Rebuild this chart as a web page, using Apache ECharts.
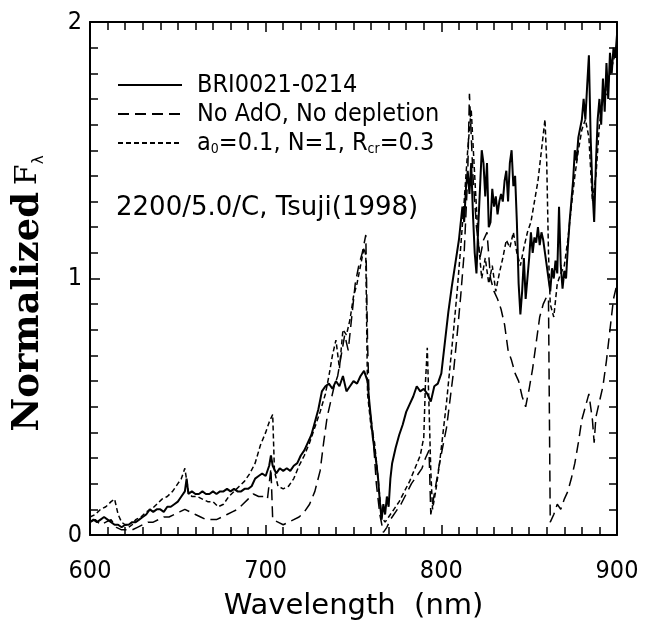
<!DOCTYPE html>
<html>
<head>
<meta charset="utf-8">
<script src="https://cdn.jsdelivr.net/npm/echarts@6/dist/echarts.min.js"></script>
<style>
html,body{margin:0;padding:0;background:#fff;}
#chart{width:646px;height:628px;}
</style>
</head>
<body>
<div id="chart"></div>
<script>
// observed spectrum (solid)
var obsWave=[600,602,604,606,608,610,612,614,616,618,620,622,624,626,628,630,632,634,636,638,640,642,644,646,648,650,652,654,655,656,658,660,662,664,666,668,670,672,674,676,678,680,682,684,686,688,690,692,694,696,698,700,702,703,704,706,708,710,712,714,716,718,720,722,724,726,728,730,732,734,736,738,740,742,744,746,748,750,752,754,756,758,759,760,761,762,763,764,765,766,767,768,769,770,771,772,774,776,778,780,782,784,786,788,790,792,794,796,798,800,802,804,806,808,810,812,813,814,815,816,817,818,819,820,821,822,823,824,825,826,827,828,829,830,831,832,833,834,835,836,837,838,839,840,841,842,843,844,845,846,847,848,849,850,851,852,853,854,855,856,857,858,859,860,861,862,863,864,865,866,867,868,869,870,871,872,873,874,875,876,877,878,879,880,881,882,883,884,885,886,887,888,889,890,891,892,893,894,895,896,897,898,899,900];
var obsFlux=[.05,.06,.05,.06,.07,.06,.05,.04,.04,.03,.04,.04,.05,.05,.06,.07,.08,.10,.09,.10,.10,.09,.11,.11,.12,.13,.15,.17,.22,.16,.17,.16,.16,.17,.16,.16,.17,.16,.17,.17,.18,.17,.18,.17,.17,.18,.18,.19,.22,.23,.24,.23,.27,.31,.27,.24,.26,.25,.26,.25,.27,.28,.31,.33,.36,.39,.44,.49,.56,.58,.59,.57,.60,.58,.62,.56,.58,.60,.59,.62,.64,.60,.52,.45,.38,.33,.28,.22,.13,.06,.12,.08,.15,.11,.22,.28,.34,.39,.43,.48,.51,.54,.58,.56,.57,.55,.52,.58,.59,.63,.75,.87,.97,1.06,1.15,1.28,1.22,1.35,1.42,1.33,1.45,1.25,1.10,1.02,1.20,1.35,1.50,1.45,1.32,1.45,1.20,1.22,1.35,1.28,1.32,1.25,1.30,1.33,1.30,1.38,1.42,1.30,1.45,1.50,1.36,1.40,1.22,.98,.86,.95,1.08,.92,1.00,1.08,1.18,1.10,1.16,1.14,1.20,1.13,1.18,1.15,1.10,1.05,1.00,.95,1.04,1.00,1.07,1.02,1.28,1.05,.96,1.03,1.00,1.12,1.22,1.30,1.38,1.50,1.46,1.55,1.55,1.62,1.70,1.62,1.75,1.87,1.55,1.35,1.22,1.45,1.62,1.70,1.60,1.78,1.65,1.84,1.70,1.88,1.80,1.90,1.86,1.95];

// model: No AdO, No depletion (long dash)
var noDustWave=[600,603,606,609,612,615,618,621,624,627,630,633,636,639,642,645,648,651,654,657,660,663,666,669,672,675,678,681,684,687,690,693,696,699,701,702,703,704,707,710,713,716,719,722,725,728,731,733,735,737,739,741,743,745,747,749,751,753,755,757,758,759,761,763,765,767,769,771,774,777,780,783,786,789,791,793,794,795,797,799,801,803,805,807,809,811,813,815,816,818,820,822,824,826,828,830,832,834,836,838,840,842,844,846,848,850,852,854,856,858,860,861,862,864,866,868,870,872,874,876,878,880,882,884,886,887,888,890,892,894,896,898,900];
var noDustFlux=[.05,.06,.04,.05,.06,.03,.02,.02,.02,.03,.04,.05,.05,.06,.07,.07,.08,.09,.10,.09,.08,.07,.06,.06,.06,.07,.08,.09,.10,.12,.14,.16,.15,.15,.14,.20,.26,.06,.05,.04,.05,.06,.07,.09,.12,.17,.25,.36,.46,.52,.58,.62,.70,.78,.72,.85,.98,1.05,1.10,1.17,.75,.50,.40,.20,.08,.01,.03,.06,.09,.12,.16,.20,.23,.26,.30,.33,.08,.12,.20,.28,.35,.42,.53,.64,.78,.93,1.10,1.40,1.72,1.40,1.20,1.08,1.15,1.18,1.00,.95,.92,.88,.82,.72,.68,.63,.60,.54,.50,.57,.65,.75,.85,.90,.93,.92,.05,.08,.12,.10,.14,.17,.22,.28,.36,.45,.50,.55,.45,.36,.46,.52,.58,.68,.80,.92,.98];

// model: a0=0.1, N=1, Rcr=0.3 (short dash)
var dustWave=[600,603,606,609,612,614,616,618,620,622,624,626,629,632,635,638,641,644,647,650,652,654,656,658,661,664,667,670,673,676,679,682,685,688,691,694,697,700,702,704,705,707,710,713,716,719,722,725,728,731,734,736,738,740,742,744,746,748,750,752,754,756,757,758,760,762,764,766,768,770,773,776,779,782,785,788,790,791,792,793,794,795,797,799,801,803,805,807,809,811,813,815,817,819,821,823,825,827,829,831,833,835,837,839,841,843,845,847,849,851,853,855,857,859,860,861,862,864,866,868,870,872,874,876,878,880,882,884,886,888,890,892,894,896,898,900];
var dustFlux=[.07,.08,.10,.11,.13,.14,.08,.05,.04,.03,.04,.06,.07,.09,.10,.12,.14,.15,.17,.20,.22,.26,.17,.15,.15,.14,.13,.13,.11,.12,.15,.17,.19,.21,.24,.28,.35,.40,.44,.47,.25,.19,.18,.19,.22,.27,.31,.36,.42,.48,.55,.62,.70,.76,.65,.80,.78,.84,.93,.98,1.05,1.12,1.09,.55,.42,.36,.22,.07,.05,.07,.10,.13,.17,.21,.26,.31,.38,.60,.73,.50,.25,.10,.18,.28,.40,.52,.66,.80,.95,1.12,1.30,1.50,1.66,1.40,1.15,1.00,1.08,.98,1.05,.95,1.02,1.08,1.15,1.12,1.18,1.10,1.05,1.12,1.18,1.22,1.30,1.38,1.50,1.62,1.45,1.10,.90,.85,.98,1.02,1.05,1.15,1.28,1.40,1.50,1.58,1.62,1.55,1.30,1.40,1.60,1.70,1.72,1.80,1.85,1.90];

var seriesNames=['BRI0021-0214','No AdO, No depletion','a0=0.1, N=1, Rcr=0.3'];
var xTicks=[600,700,800,900];
var yTicks=[0,1,2];

function zip(xs,ys){
    var out=[];
    for(var i=0;i<xs.length;i++){
        out.push([xs[i],ys[i]]);
    }
    return out;
}

var txtFont='"DejaVu Sans",sans-serif';
var lblFont='"DejaVu Sans Condensed","DejaVu Sans",sans-serif';

// build one frame axis, every call gets fresh objects (shared ones break the ticks)
function frameAxis(isX,pos){
    return {
        type:'value',position:pos,
        min:isX?xTicks[0]:yTicks[0],
        max:isX?xTicks[xTicks.length-1]:yTicks[yTicks.length-1],
        interval:isX?100:1,
        axisLine:{show:true,onZero:false,lineStyle:{color:'#000',width:2}},
        axisTick:{show:true,inside:true,length:10,lineStyle:{color:'#000',width:1.5}},
        minorTick:{show:true,splitNumber:10,length:8,lineStyle:{color:'#000',width:1.5}},
        splitLine:{show:false},
        minorSplitLine:{show:false},
        axisLabel:{show:false}
    };
}

var xBottom=frameAxis(true,'bottom');
xBottom.name='Wavelength  (nm)';
xBottom.nameLocation='middle';
xBottom.nameGap=57;
xBottom.nameTextStyle={fontFamily:txtFont,fontSize:29,color:'#000'};
xBottom.axisLabel={show:true,margin:24,fontFamily:lblFont,fontSize:25,color:'#000'};
var xTop=frameAxis(true,'top');

var yLeft=frameAxis(false,'left');
yLeft.name='{b|Normalized}  {f|F}{l|λ}';
yLeft.nameLocation='middle';
yLeft.nameGap=43;
yLeft.nameRotate=90;
yLeft.nameTextStyle={
    padding:[0,30,0,0],
    rich:{
        b:{fontFamily:'"DejaVu Serif",serif',fontWeight:'bold',fontSize:37,color:'#000'},
        f:{fontFamily:'"DejaVu Serif",serif',fontSize:30,color:'#000'},
        l:{fontFamily:txtFont,fontSize:15,color:'#000',verticalAlign:'bottom',padding:[14,0,0,0]}
    }
};
yLeft.axisLabel={show:true,margin:8,fontFamily:lblFont,fontSize:25,color:'#000'};
var yRight=frameAxis(false,'right');

var myChart=echarts.init(document.getElementById('chart'),null,{renderer:'canvas'});
var option={
    backgroundColor:'#fff',
    animation:false,
    grid:{left:90,right:29,top:22,bottom:93,outerBoundsMode:'none',containLabel:false},
    legend:{
        show:true,
        selectedMode:false,
        orient:'vertical',
        left:112,top:67,
        itemWidth:64,itemHeight:20,itemGap:3,
        data:seriesNames,
        itemStyle:{color:'rgba(0,0,0,0)',borderColor:'rgba(0,0,0,0)',borderWidth:0,opacity:0},
        textStyle:{
            fontFamily:lblFont,fontSize:25,color:'#000',padding:[0,0,0,10],lineHeight:26,
            rich:{
                n:{fontFamily:lblFont,fontSize:25,color:'#000',lineHeight:26},
                s:{fontFamily:lblFont,fontSize:14,color:'#000',verticalAlign:'bottom',lineHeight:26,padding:[12,0,0,0]}
            }
        },
        formatter:function(name){
            if(name===seriesNames[2]){
                return '{n|a}{s|0}{n|=0.1, N=1, R}{s|cr}{n|=0.3}';
            }
            return name;
        }
    },
    xAxis:[xBottom,xTop],
    yAxis:[yLeft,yRight],
    graphic:[{
        type:'text',left:116,top:195,
        style:{text:'2200/5.0/C, Tsuji(1998)',font:'26px '+txtFont,fill:'#000'}
    }],
    series:[
        {
            name:seriesNames[0],type:'line',xAxisIndex:0,yAxisIndex:0,
            data:zip(obsWave,obsFlux),showSymbol:false,symbol:'none',
            lineStyle:{color:'#000',width:2,type:'solid'},itemStyle:{color:'#000'}
        },
        {
            name:seriesNames[1],type:'line',xAxisIndex:0,yAxisIndex:0,
            data:zip(noDustWave,noDustFlux),showSymbol:false,symbol:'none',
            lineStyle:{color:'#000',width:1.5,type:[11,6]},itemStyle:{color:'#000'}
        },
        {
            name:seriesNames[2],type:'line',xAxisIndex:0,yAxisIndex:0,
            data:zip(dustWave,dustFlux),showSymbol:false,symbol:'none',
            lineStyle:{color:'#000',width:1.5,type:[5,3]},itemStyle:{color:'#000'}
        }
    ]
};
myChart.setOption(option);
</script>
</body>
</html>
